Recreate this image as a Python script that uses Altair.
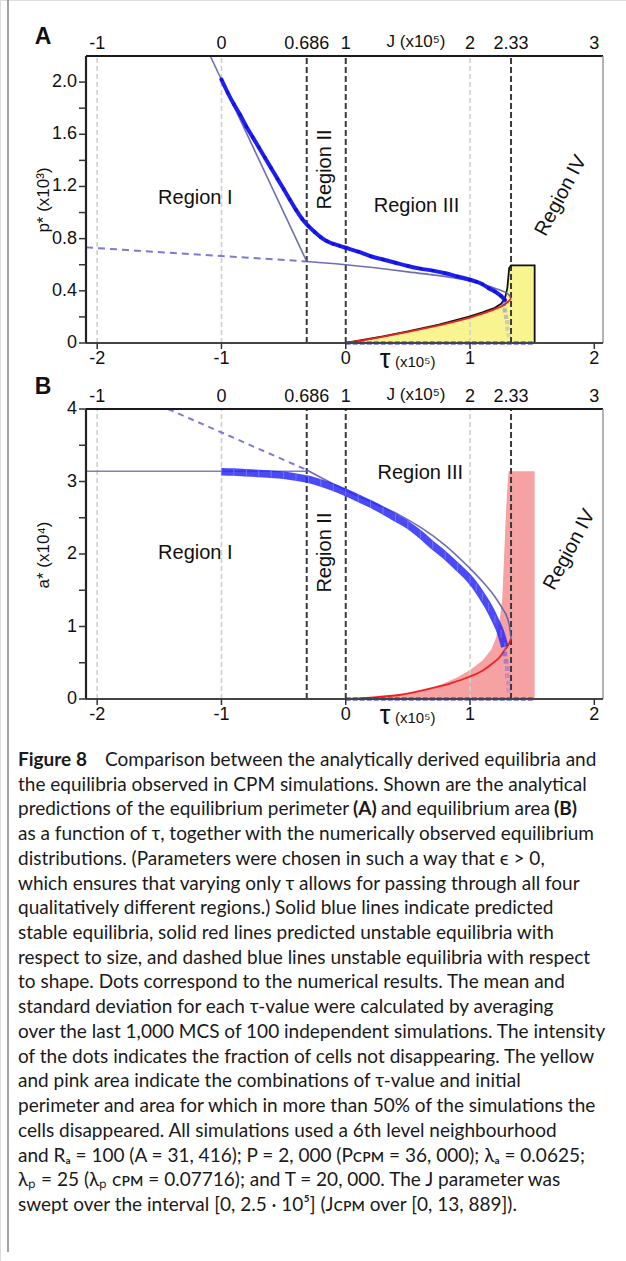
import altair as alt
import pandas as pd

# ---------------- data ----------------
# Panel A: equilibrium perimeter p* (x10^3) against tau (x10^5)
simA_tau = [-1.00, -0.95, -0.90, -0.85, -0.80, -0.75, -0.70, -0.65, -0.60, -0.55,
            -0.50, -0.45, -0.40, -0.35, -0.30, -0.25, -0.20, -0.15, -0.10, -0.05,
            0.00, 0.10, 0.20, 0.30, 0.40, 0.50, 0.60, 0.70, 0.80, 0.90,
            1.00, 1.05, 1.10, 1.15, 1.20, 1.25, 1.28]
simA_p = [2.02, 1.92, 1.83, 1.75, 1.66, 1.58, 1.50, 1.42, 1.34, 1.26,
          1.18, 1.10, 1.02, 0.95, 0.895, 0.85, 0.81, 0.78, 0.76, 0.745,
          0.73, 0.70, 0.665, 0.64, 0.615, 0.59, 0.57, 0.555, 0.535, 0.51,
          0.485, 0.47, 0.45, 0.42, 0.395, 0.36, 0.33]
tailA_tau = [1.27, 1.28, 1.29, 1.30, 1.30, 1.31]
tailA_p = [0.30, 0.25, 0.20, 0.16, 0.11, 0.06]
tailA_w = [0.45, 0.35, 0.28, 0.22, 0.18, 0.15]

stableA1_tau = [-1.09, -0.314]
stableA1_p = [2.20, 0.625]
stableA2_tau = [-0.314, 0.00, 0.50, 1.00, 1.20, 1.28, 1.32, 1.33]
stableA2_p = [0.625, 0.60, 0.545, 0.475, 0.42, 0.39, 0.36, 0.34]
dashA_tau = [-2.09, -0.314]
dashA_p = [0.733, 0.625]
redA_tau = [0.00, 0.25, 0.50, 0.75, 1.00, 1.10, 1.20, 1.27, 1.31, 1.33]
redA_p = [0.00, 0.04, 0.085, 0.135, 0.195, 0.225, 0.26, 0.29, 0.32, 0.34]
# boundary of the region where most cells disappeared (perimeter)
lossA_tau = [0.00, 0.30, 0.50, 0.75, 1.00, 1.10, 1.20, 1.25, 1.28, 1.30, 1.31, 1.315, 1.33, 1.52]
lossA_p = [0.00, 0.05, 0.09, 0.14, 0.205, 0.235, 0.27, 0.30, 0.34, 0.42, 0.52, 0.575, 0.595, 0.595]
zero_tau = [0.00, 1.52]

# Panel B: equilibrium area a* (x10^4) against tau (x10^5)
simB_tau = [-1.00, -0.90, -0.80, -0.70, -0.60, -0.50, -0.40, -0.30, -0.20, -0.10,
            0.00, 0.10, 0.20, 0.30, 0.40, 0.50, 0.60, 0.70, 0.80, 0.90,
            1.00, 1.05, 1.10, 1.15, 1.20, 1.25, 1.28]
simB_a = [3.135, 3.13, 3.12, 3.11, 3.10, 3.085, 3.06, 3.03, 2.98, 2.92,
          2.85, 2.77, 2.69, 2.60, 2.50, 2.40, 2.27, 2.12, 1.98, 1.82,
          1.65, 1.54, 1.41, 1.27, 1.10, 0.90, 0.72]
tailB_tau = [1.28, 1.29, 1.30, 1.30, 1.31, 1.31]
tailB_a = [0.62, 0.52, 0.42, 0.32, 0.22, 0.12]
tailB_w = [0.45, 0.38, 0.30, 0.24, 0.18, 0.14]

stableB1_tau = [-2.09, -0.314]
stableB1_a = [3.14, 3.14]
stableB2_tau = [-0.314, 0.00, 0.20, 0.43, 0.60, 0.80, 1.00, 1.10, 1.20, 1.26, 1.30, 1.32, 1.33]
stableB2_a = [3.16, 2.88, 2.72, 2.54, 2.37, 2.12, 1.80, 1.62, 1.41, 1.25, 1.12, 0.98, 0.83]
dashB_tau = [-1.43, -0.314]
dashB_a = [4.00, 3.16]
redB_tau = [0.00, 0.20, 0.43, 0.69, 0.85, 1.00, 1.10, 1.18, 1.24, 1.28, 1.31, 1.33]
redB_a = [0.00, 0.02, 0.055, 0.15, 0.22, 0.31, 0.39, 0.49, 0.58, 0.68, 0.75, 0.83]
lossB_tau = [0.00, 0.40, 0.70, 0.90, 1.00, 1.10, 1.17, 1.21, 1.24, 1.26, 1.27, 1.28, 1.29, 1.30, 1.31, 1.52]
lossB_a = [0.00, 0.04, 0.15, 0.30, 0.40, 0.53, 0.68, 0.85, 1.10, 1.40, 1.80, 2.20, 2.60, 2.90, 3.14, 3.14]

# axis values
j_ticks = [-1, 0, 0.686, 1, 2, 2.33, 3]
j_labels = ["-1", "0", "0.686", "1", "2", "2.33", "3"]
tau_ticks = [-2, -1, 0, 1, 2]
tau_labels = ["-2", "-1", "0", "1", "2"]
grey_grid = [-2, -1, 1]
region_bounds = [-0.314, 0, 1.33]
pA_minor = [0, 0.2, 0.4, 0.6, 0.8, 1.0, 1.2, 1.4, 1.6, 1.8, 2.0]
pA_major = [0, 0.4, 0.8, 1.2, 1.6, 2.0]
pA_major_labels = ["0", "0.4", "0.8", "1.2", "1.6", "2.0"]
aB_minor = [0, 0.5, 1, 1.5, 2, 2.5, 3, 3.5, 4]
aB_major = [0, 1, 2, 3, 4]
aB_major_labels = ["0", "1", "2", "3", "4"]

caption_lines = [
    "Comparison between the analytically derived equilibria and",
    "the equilibria observed in CPM simulations. Shown are the analytical",
    "predictions of the equilibrium perimeter",
    "as a function of τ, together with the numerically observed equilibrium",
    "distributions. (Parameters were chosen in such a way that ϵ > 0,",
    "which ensures that varying only τ allows for passing through all four",
    "qualitatively different regions.) Solid blue lines indicate predicted",
    "stable equilibria, solid red lines predicted unstable equilibria with",
    "respect to size, and dashed blue lines unstable equilibria with respect",
    "to shape. Dots correspond to the numerical results. The mean and",
    "standard deviation for each τ-value were calculated by averaging",
    "over the last 1,000 MCS of 100 independent simulations. The intensity",
    "of the dots indicates the fraction of cells not disappearing. The yellow",
    "and pink area indicate the combinations of τ-value and initial",
    "perimeter and area for which in more than 50% of the simulations the",
    "cells disappeared. All simulations used a 6th level neighbourhood",
    "and Rₐ = 100 (A = 31, 416); P = 2, 000 (Pᴄᴘᴍ = 36, 000); λₐ = 0.0625;",
    "λₚ = 25 (λₚ ᴄᴘᴍ = 0.07716); and T = 20, 000. The J parameter was",
    "swept over the interval [0, 2.5 · 10⁵] (Jᴄᴘᴍ over [0, 13, 889]).",
]

# ---------------- scales ----------------
X_DOM, X_RNG = [-2.09, 2.07], [86, 603]
YA_DOM, YA_RNG = [0, 2.2], [343, 56]
YB_DOM, YB_RNG = [0, 4], [699, 409]
FONT = "Liberation Sans"
CAP_FONT = "Lato"


def xs():
    return alt.Scale(domain=X_DOM, range=X_RNG, nice=False, zero=False)


def ys(panel):
    if panel == "A":
        return alt.Scale(domain=YA_DOM, range=YA_RNG, nice=False, zero=False)
    return alt.Scale(domain=YB_DOM, range=YB_RNG, nice=False, zero=False)


def frame(t, v):
    return pd.DataFrame({"t": t, "v": v, "z": 0.0, "i": list(range(len(t)))})


def enc_xy(panel):
    return dict(x=alt.X("t:Q", scale=xs(), axis=None),
                y=alt.Y("v:Q", scale=ys(panel), axis=None))


def curve(t, v, panel, color, width, dash=None, opacity=1.0, interp="monotone", cap="butt"):
    kw = dict(color=color, strokeWidth=width, opacity=opacity, interpolate=interp, strokeCap=cap)
    if dash:
        kw["strokeDash"] = dash
    return alt.Chart(frame(t, v)).mark_line(**kw).encode(order="i:Q", **enc_xy(panel))


def filled(t, v, panel, color, opacity):
    return alt.Chart(frame(t, v)).mark_area(color=color, opacity=opacity, interpolate="linear").encode(
        x=alt.X("t:Q", scale=xs(), axis=None),
        y=alt.Y("v:Q", scale=ys(panel), axis=None),
        y2="z:Q")


def vrules(vals, panel, color, width, dash):
    top = YA_DOM[1] if panel == "A" else YB_DOM[1]
    df = pd.DataFrame({"t": vals, "lo": 0.0, "hi": top})
    return alt.Chart(df).mark_rule(color=color, strokeWidth=width, strokeDash=dash).encode(
        x=alt.X("t:Q", scale=xs(), axis=None),
        y=alt.Y("lo:Q", scale=ys(panel), axis=None), y2="hi:Q")


def hline(t0, t1, v, panel, color, width):
    df = pd.DataFrame({"t": [t0], "t2": [t1], "v": [v]})
    return alt.Chart(df).mark_rule(color=color, strokeWidth=width).encode(
        x=alt.X("t:Q", scale=xs(), axis=None), x2="t2:Q",
        y=alt.Y("v:Q", scale=ys(panel), axis=None))


def vline(t, v0, v1, panel, color, width):
    df = pd.DataFrame({"t": [t], "v": [v0], "v2": [v1]})
    return alt.Chart(df).mark_rule(color=color, strokeWidth=width).encode(
        x=alt.X("t:Q", scale=xs(), axis=None),
        y=alt.Y("v:Q", scale=ys(panel), axis=None), y2="v2:Q")


def region_label(text, t, v, panel, angle=0):
    df = pd.DataFrame({"t": [t], "v": [v], "s": [text]})
    return alt.Chart(df).mark_text(font=FONT, fontSize=20, color="#111", angle=angle,
                                   align="center", baseline="middle").encode(
        text="s:N", **enc_xy(panel))


def static_text(text, x, y, size, weight="normal", angle=0, align="center", font=FONT, color="#111"):
    df = pd.DataFrame({"s": [text]})
    return alt.Chart(df).mark_text(font=font, fontSize=size, fontWeight=weight, angle=angle,
                                   align=align, baseline="middle", color=color).encode(
        text="s:N", x=alt.value(x), y=alt.value(y))


def panel_layers(panel):
    L = []
    bottom_px = YA_RNG[0] if panel == "A" else YB_RNG[0]
    top_px = YA_RNG[1] if panel == "A" else YB_RNG[1]
    vtop = YA_DOM[1] if panel == "A" else YB_DOM[1]

    # region where cells disappeared
    if panel == "A":
        L.append(filled(lossA_tau, lossA_p, "A", "#f8f590", 1.0))
    else:
        L.append(filled(lossB_tau, lossB_a, "B", "#f6a2a2", 1.0))

    # grid and region boundaries
    L.append(vrules(grey_grid, panel, "#cfcfcf", 1.6, [5, 3]))
    L.append(vrules(region_bounds, panel, "#3a3a3a", 2.0, [6, 3]))

    if panel == "A":
        # outline of the disappearance region
        L.append(curve(lossA_tau + [1.52], lossA_p + [0.0], "A", "#111", 1.8, interp="linear"))
        L.append(curve(dashA_tau, dashA_p, "A", "#7b7bd0", 2.0, dash=[7, 5], interp="linear"))
        L.append(curve(stableA1_tau, stableA1_p, "A", "#5d5daa", 1.6, interp="linear", opacity=0.9))
        L.append(curve(stableA2_tau, stableA2_p, "A", "#5d5daa", 1.6, opacity=0.9))
        L.append(curve(redA_tau, redA_p, "A", "#ee2020", 1.8))
        L.append(curve(simA_tau, simA_p, "A", "#1e1ef2", 4.0, cap="round"))
        sim = pd.DataFrame({"t": simA_tau, "v": simA_p})
        L.append(alt.Chart(sim).mark_square(color="#0c0cc8", size=10).encode(**enc_xy("A")))
        L.append(curve(zero_tau, [0, 0], "A", "#2020f0", 3.0, dash=[5, 2], interp="linear"))
        tail = pd.DataFrame({"t": tailA_tau, "v": tailA_p, "w": tailA_w})
        L.append(alt.Chart(tail).mark_square(color="#3a3af0", size=18).encode(
            opacity=alt.Opacity("w:Q", scale=None), **enc_xy("A")))
    else:
        L.append(curve(dashB_tau, dashB_a, "B", "#7b7bd0", 2.0, dash=[6, 5], interp="linear"))
        L.append(curve(stableB1_tau, stableB1_a, "B", "#6a6ab0", 1.5, interp="linear", opacity=0.85))
        L.append(curve(stableB2_tau, stableB2_a, "B", "#5d5daa", 1.6, opacity=0.9))
        L.append(curve(redB_tau, redB_a, "B", "#ee2020", 1.8))
        L.append(curve(simB_tau, simB_a, "B", "#2a2af6", 7.5, opacity=0.85))
        sim = pd.DataFrame({"t": simB_tau, "v": simB_a})
        L.append(alt.Chart(sim).mark_tick(color="#8080ff", thickness=1, size=8, opacity=0.8).encode(**enc_xy("B")))
        L.append(curve(zero_tau, [0, 0], "B", "#2020f0", 3.0, dash=[5, 2], interp="linear"))
        tail = pd.DataFrame({"t": tailB_tau, "v": tailB_a, "w": tailB_w})
        L.append(alt.Chart(tail).mark_square(color="#3a3af0", size=22).encode(
            opacity=alt.Opacity("w:Q", scale=None), **enc_xy("B")))

    # frame
    L.append(hline(X_DOM[0], X_DOM[1], vtop, panel, "#1a1a1a", 2.2))
    L.append(vline(X_DOM[1], 0, vtop, panel, "#9a9a9a", 1.5))
    L.append(hline(X_DOM[0], X_DOM[1], 0, panel, "#444", 2.2))
    L.append(vline(X_DOM[0], 0, vtop, panel, "#222", 2.2))

    # left ticks and labels
    minor = pA_minor if panel == "A" else aB_minor
    major = pA_major if panel == "A" else aB_major
    major_lab = pA_major_labels if panel == "A" else aB_major_labels
    L.append(alt.Chart(pd.DataFrame({"v": minor})).mark_rule(color="#333", strokeWidth=1.5).encode(
        y=alt.Y("v:Q", scale=ys(panel), axis=None), x=alt.value(79), x2=alt.value(86)))
    L.append(alt.Chart(pd.DataFrame({"v": major, "s": major_lab})).mark_text(
        font=FONT, fontSize=18, align="right", baseline="middle", color="#111").encode(
        y=alt.Y("v:Q", scale=ys(panel), axis=None), x=alt.value(77), text="s:N"))

    # bottom ticks and labels (tau)
    L.append(alt.Chart(pd.DataFrame({"t": tau_ticks})).mark_rule(color="#333", strokeWidth=1.5).encode(
        x=alt.X("t:Q", scale=xs(), axis=None), y=alt.value(bottom_px), y2=alt.value(bottom_px + 6)))
    L.append(alt.Chart(pd.DataFrame({"t": tau_ticks, "s": tau_labels})).mark_text(
        font=FONT, fontSize=18, align="center", baseline="middle", color="#111").encode(
        x=alt.X("t:Q", scale=xs(), axis=None), y=alt.value(bottom_px + 16), text="s:N"))

    # top labels (J = tau + 1)
    L.append(alt.Chart(pd.DataFrame({"j": j_ticks, "s": j_labels})).transform_calculate(
        t="datum.j - 1").mark_text(
        font=FONT, fontSize=18, align="center", baseline="middle", color="#111").encode(
        x=alt.X("t:Q", scale=xs(), axis=None), y=alt.value(top_px - 12), text="s:N"))
    L.append(static_text("J (x10⁵)", 416, top_px - 14, 17))

    # tau axis title
    L.append(static_text("τ", 385, bottom_px + 17, 27))
    L.append(static_text("(x10⁵)", 395, bottom_px + 19, 15, align="left"))

    # region names
    if panel == "A":
        L.append(region_label("Region I", -1.21, 1.11, "A"))
        L.append(region_label("Region II", -0.17, 1.33, "A", angle=270))
        L.append(region_label("Region III", 0.57, 1.05, "A"))
        L.append(region_label("Region IV", 1.73, 1.13, "A", angle=298))
        L.append(static_text("p* (x10³)", 44, 200, 17, angle=270))
        L.append(static_text("A", 43, 37, 23, weight="bold"))
    else:
        L.append(region_label("Region I", -1.21, 2.02, "B"))
        L.append(region_label("Region II", -0.17, 2.02, "B", angle=270))
        L.append(region_label("Region III", 0.60, 3.12, "B"))
        L.append(region_label("Region IV", 1.80, 2.06, "B", angle=298))
        L.append(static_text("a* (x10⁴)", 44, 555, 17, angle=270))
        L.append(static_text("B", 43, 387, 23, weight="bold"))
    return L


layers = []
layers += panel_layers("A")
layers += panel_layers("B")

# page border on the left
layers.append(alt.Chart(pd.DataFrame({"k": [0]})).mark_rule(color="#8c8c8c", strokeWidth=1.6).encode(
    x=alt.value(8), y=alt.value(0), y2=alt.value(1252)))

# caption
CAP_Y0, CAP_DY, CAP_SIZE = 760, 24.72, 19


def cap_seg(text, x, line, size=CAP_SIZE, weight="normal"):
    df = pd.DataFrame({"s": [text]})
    return alt.Chart(df).mark_text(font=CAP_FONT, fontSize=size, fontWeight=weight,
                                   align="left", baseline="middle", color="#1a1a1a").encode(
        text="s:N", x=alt.value(x), y=alt.value(CAP_Y0 + line * CAP_DY))


for k, line_text in enumerate(caption_lines):
    x0 = 105 if k == 0 else 18
    layers.append(cap_seg(line_text, x0, k))
layers.append(cap_seg("Figure 8", 18, 0, weight="bold"))
layers.append(cap_seg("(A)", 353, 2, weight="bold"))
layers.append(cap_seg("and equilibrium area", 381, 2))
layers.append(cap_seg("(B)", 554, 2, weight="bold"))

chart = alt.layer(*layers).resolve_scale(x="independent", y="independent").properties(
    width=626, height=1261, autosize="none", padding=0
).configure_view(stroke=None).configure(background="white")

chart.save("out.html", embed_options={"renderer": "svg", "actions": False})
